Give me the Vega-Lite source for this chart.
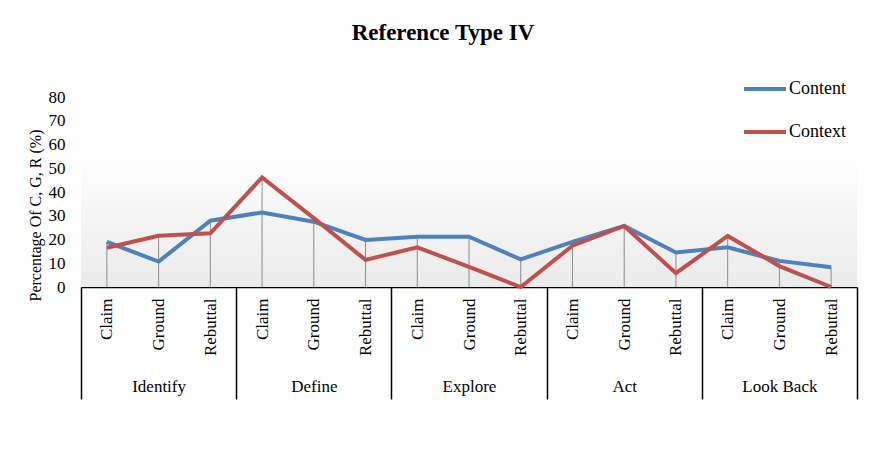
{
  "$schema": "https://vega.github.io/schema/vega-lite/v6.json",
  "width": 776,
  "height": 190,
  "autosize": "none",
  "padding": {"left": 81, "top": 97, "right": 12, "bottom": 181},
  "background": "white",
  "config": {"font": "Liberation Serif", "view": {"stroke": null}, "axisY": {"labelOverlap": false}},
  "title": {"text": "Reference Type IV", "fontSize": 23, "fontWeight": "bold", "font": "Liberation Serif", "color": "black", "anchor": "middle", "dx": -26, "offset": 21},
  "data": {"values": [
    {"stage": "Identify", "type": "Claim", "key": "Identify|Claim", "series": "Content", "value": 19},
    {"stage": "Identify", "type": "Claim", "key": "Identify|Claim", "series": "Context", "value": 16.5},
    {"stage": "Identify", "type": "Ground", "key": "Identify|Ground", "series": "Content", "value": 10.7},
    {"stage": "Identify", "type": "Ground", "key": "Identify|Ground", "series": "Context", "value": 21.6},
    {"stage": "Identify", "type": "Rebuttal", "key": "Identify|Rebuttal", "series": "Content", "value": 27.9},
    {"stage": "Identify", "type": "Rebuttal", "key": "Identify|Rebuttal", "series": "Context", "value": 22.6},
    {"stage": "Define", "type": "Claim", "key": "Define|Claim", "series": "Content", "value": 31.4},
    {"stage": "Define", "type": "Claim", "key": "Define|Claim", "series": "Context", "value": 46.1},
    {"stage": "Define", "type": "Ground", "key": "Define|Ground", "series": "Content", "value": 27.5},
    {"stage": "Define", "type": "Ground", "key": "Define|Ground", "series": "Context", "value": 29},
    {"stage": "Define", "type": "Rebuttal", "key": "Define|Rebuttal", "series": "Content", "value": 19.8},
    {"stage": "Define", "type": "Rebuttal", "key": "Define|Rebuttal", "series": "Context", "value": 11.4},
    {"stage": "Explore", "type": "Claim", "key": "Explore|Claim", "series": "Content", "value": 21.2},
    {"stage": "Explore", "type": "Claim", "key": "Explore|Claim", "series": "Context", "value": 16.7},
    {"stage": "Explore", "type": "Ground", "key": "Explore|Ground", "series": "Content", "value": 21.2},
    {"stage": "Explore", "type": "Ground", "key": "Explore|Ground", "series": "Context", "value": 8.5},
    {"stage": "Explore", "type": "Rebuttal", "key": "Explore|Rebuttal", "series": "Content", "value": 11.6},
    {"stage": "Explore", "type": "Rebuttal", "key": "Explore|Rebuttal", "series": "Context", "value": 0},
    {"stage": "Act", "type": "Claim", "key": "Act|Claim", "series": "Content", "value": 19},
    {"stage": "Act", "type": "Claim", "key": "Act|Claim", "series": "Context", "value": 17.4},
    {"stage": "Act", "type": "Ground", "key": "Act|Ground", "series": "Content", "value": 25.7},
    {"stage": "Act", "type": "Ground", "key": "Act|Ground", "series": "Context", "value": 25.7},
    {"stage": "Act", "type": "Rebuttal", "key": "Act|Rebuttal", "series": "Content", "value": 14.5},
    {"stage": "Act", "type": "Rebuttal", "key": "Act|Rebuttal", "series": "Context", "value": 5.8},
    {"stage": "Look Back", "type": "Claim", "key": "Look Back|Claim", "series": "Content", "value": 16.7},
    {"stage": "Look Back", "type": "Claim", "key": "Look Back|Claim", "series": "Context", "value": 21.5},
    {"stage": "Look Back", "type": "Ground", "key": "Look Back|Ground", "series": "Content", "value": 11},
    {"stage": "Look Back", "type": "Ground", "key": "Look Back|Ground", "series": "Context", "value": 8.8},
    {"stage": "Look Back", "type": "Rebuttal", "key": "Look Back|Rebuttal", "series": "Content", "value": 8.3},
    {"stage": "Look Back", "type": "Rebuttal", "key": "Look Back|Rebuttal", "series": "Context", "value": 0}
  ]},
  "resolve": {"scale": {"x": "independent"}, "axis": {"x": "independent"}},
  "layer": [
    {
      "data": {"values": [{}]},
      "mark": {"type": "rect", "fill": {"gradient": "linear", "x1": 0, "y1": 0, "x2": 0, "y2": 1, "stops": [{"offset": 0, "color": "#ffffff"}, {"offset": 0.27, "color": "#ffffff"}, {"offset": 1, "color": "#ebebeb"}]}},
      "encoding": {}
    },
    {
      "layer": [
        {
          "transform": [{"aggregate": [{"op": "max", "field": "value", "as": "top"}], "groupby": ["key"]}],
          "mark": {"type": "rule", "strokeWidth": 1},
          "encoding": {
            "x": {"field": "key", "type": "nominal"},
            "y": {
              "field": "top", "type": "quantitative",
              "scale": {"domain": [0, 80], "nice": false},
              "axis": {"title": "Percentage Of C, G, R (%)", "titleFont": "Liberation Serif", "titleFontSize": 16, "titleFontWeight": "normal", "titleColor": "black", "titleX": -46, "titleY": 118, "titleAngle": -90, "titleAlign": "center", "titleBaseline": "middle", "values": [0, 10, 20, 30, 40, 50, 60, 70, 80], "labelOverlap": false, "domain": false, "ticks": false, "grid": false, "labelPadding": 16, "labelFont": "Liberation Serif", "labelFontSize": 17, "labelColor": "black"}
            },
            "y2": {"datum": 0},
            "color": {"value": "#8c8c8c"}
          }
        },
        {
          "mark": {"type": "line", "strokeWidth": 4},
          "encoding": {
            "x": {"field": "key", "type": "nominal"},
            "y": {"field": "value", "type": "quantitative"},
            "color": {"field": "series", "type": "nominal"}
          }
        }
      ],
      "encoding": {
        "x": {
          "field": "key", "type": "nominal",
          "sort": ["Identify|Claim", "Identify|Ground", "Identify|Rebuttal", "Define|Claim", "Define|Ground", "Define|Rebuttal", "Explore|Claim", "Explore|Ground", "Explore|Rebuttal", "Act|Claim", "Act|Ground", "Act|Rebuttal", "Look Back|Claim", "Look Back|Ground", "Look Back|Rebuttal"],
          "scale": {"type": "point", "padding": 0.5},
          "axis": {"orient": "bottom", "title": null, "ticks": false, "grid": false, "domain": true, "domainColor": "black", "domainWidth": 1.5, "labelAngle": -90, "labelPadding": 11, "labelFont": "Liberation Serif", "labelFontSize": 17, "labelColor": "black", "labelExpr": "split(datum.label, '|')[1]"}
        },
        "y": {
          "field": "value", "type": "quantitative",
          "scale": {"domain": [0, 80], "nice": false},
          "axis": {"title": "Percentage Of C, G, R (%)", "titleFont": "Liberation Serif", "titleFontSize": 16, "titleFontWeight": "normal", "titleColor": "black", "titleX": -46, "titleY": 118, "titleAngle": -90, "titleAlign": "center", "titleBaseline": "middle", "values": [0, 10, 20, 30, 40, 50, 60, 70, 80], "labelOverlap": false, "domain": false, "ticks": false, "grid": false, "labelPadding": 16, "labelFont": "Liberation Serif", "labelFontSize": 17, "labelColor": "black"}
        },
        "color": {
          "field": "series", "type": "nominal",
          "scale": {"domain": ["Content", "Context"], "range": ["#4f81bd", "#c0504d"]},
          "legend": {"title": null, "orient": "none", "legendX": 661, "legendY": -31, "symbolType": "stroke", "symbolSize": 1764, "symbolStrokeWidth": 4, "labelFont": "Liberation Serif", "labelFontSize": 18, "labelColor": "black", "labelOffset": 1, "rowPadding": 11}
        }
      }
    },
    {
      "mark": {"type": "point", "opacity": 0},
      "encoding": {
        "x": {
          "field": "stage", "type": "nominal",
          "sort": ["Identify", "Define", "Explore", "Act", "Look Back"],
          "scale": {"type": "band", "paddingInner": 0, "paddingOuter": 0},
          "axis": {"orient": "bottom", "title": null, "domain": false, "ticks": true, "tickBand": "extent", "tickSize": 112, "tickColor": "black", "tickWidth": 1.5, "labelAngle": 0, "labelPadding": -21, "labelFont": "Liberation Serif", "labelFontSize": 17, "labelColor": "black", "grid": false}
        }
      }
    }
  ]
}
